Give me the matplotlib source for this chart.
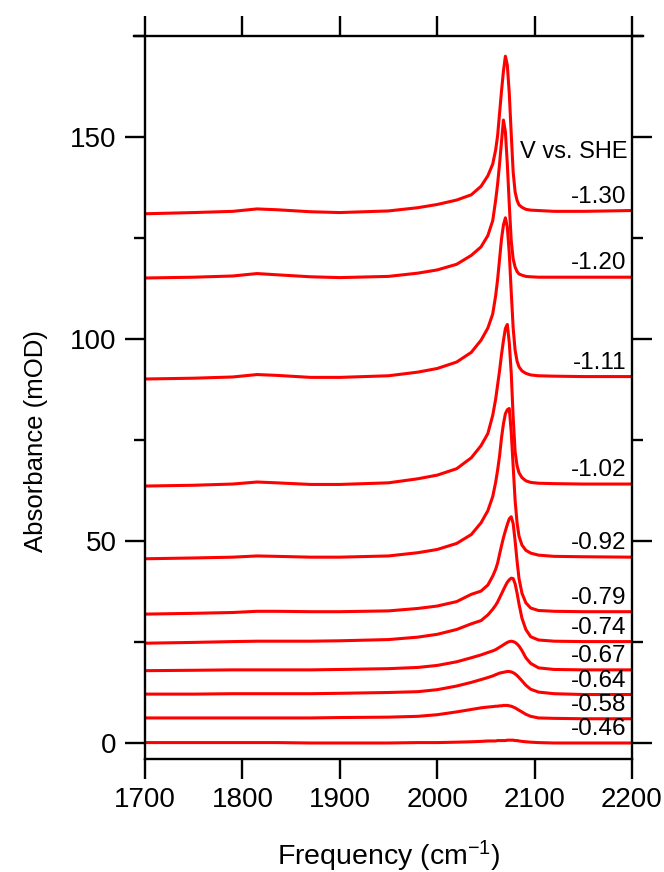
import numpy as np
import matplotlib
matplotlib.use("Agg")
import matplotlib.pyplot as plt
from matplotlib.ticker import MultipleLocator

plt.rcParams['font.family'] = ['Liberation Sans', 'DejaVu Sans']
plt.rcParams['mathtext.default'] = 'regular'

# frequency grid (cm-1), denser around the CO band
freq = [1700, 1750, 1790, 1815, 1835, 1870, 1900, 1950, 1980, 2000, 2020,
        2035, 2045, 2052, 2057, 2060,
        2062, 2064, 2066, 2068, 2070, 2072, 2074, 2076, 2078, 2080, 2082, 2084,
        2087, 2091, 2096, 2104, 2120, 2150, 2200]

# absorbance (mOD), relative to each trace's offset
a046 = [0.1, 0.1, 0.1, 0.1, 0.1, 0.0, 0.0, 0.0, 0.1, 0.1, 0.2,
        0.3, 0.4, 0.5, 0.5, 0.5,
        0.6, 0.6, 0.6, 0.6, 0.6, 0.7, 0.7, 0.7, 0.7, 0.6, 0.6, 0.5,
        0.4, 0.3, 0.2, 0.1, 0.0, 0.0, 0.0]
a058 = [0.2, 0.2, 0.2, 0.2, 0.2, 0.2, 0.3, 0.4, 0.6, 1.0, 1.7,
        2.3, 2.7, 2.9, 3.0, 3.1,
        3.1, 3.2, 3.2, 3.3, 3.3, 3.3, 3.2, 3.1, 2.9, 2.7, 2.4, 2.1,
        1.7, 1.1, 0.6, 0.2, 0.1, 0.0, 0.0]
a064 = [0.1, 0.1, 0.2, 0.2, 0.2, 0.2, 0.3, 0.5, 0.7, 1.2, 2.1,
        3.0, 3.7, 4.2, 4.6, 4.9,
        5.1, 5.3, 5.4, 5.5, 5.6, 5.7, 5.7, 5.6, 5.4, 5.1, 4.7, 4.2,
        3.4, 2.3, 1.3, 0.6, 0.2, 0.0, 0.0]
a067 = [-0.2, -0.1, 0.0, 0.0, 0.0, 0.0, 0.1, 0.3, 0.6, 1.1, 2.0,
        3.0, 3.7, 4.3, 4.7, 5.0,
        5.3, 5.6, 5.9, 6.2, 6.5, 6.8, 7.0, 7.1, 7.0, 6.8, 6.4, 5.9,
        4.8, 3.0, 1.6, 0.5, 0.1, 0.0, 0.0]
a074 = [-0.4, -0.2, 0.0, 0.1, 0.1, 0.1, 0.2, 0.5, 1.1, 1.8, 3.0,
        4.4, 5.2, 6.6, 8.0, 9.0,
        9.8, 10.8, 11.8, 12.8, 13.8, 14.7, 15.3, 15.7, 15.6, 14.3, 12.0, 9.3,
        5.8, 3.0, 1.2, 0.4, 0.1, 0.0, 0.0]
a079 = [-0.6, -0.4, -0.2, 0.1, 0.1, 0.0, 0.0, 0.2, 0.8, 1.4, 2.5,
        4.3, 5.1, 6.6, 8.8, 10.5,
        12.0, 14.2, 16.3, 18.3, 20.0, 21.6, 23.0, 23.5, 21.8, 17.5, 12.5, 8.2,
        4.6, 2.2, 0.9, 0.3, 0.1, 0.0, 0.0]
a092 = [-0.4, -0.2, 0.0, 0.3, 0.2, 0.0, 0.0, 0.3, 1.1, 1.9, 3.4,
        5.6, 8.5, 11.5, 15.0, 18.5,
        21.5, 25.0, 29.5, 33.0, 35.5, 36.5, 36.8, 31.0, 22.5, 14.0, 8.5, 5.2,
        3.0, 1.7, 1.0, 0.5, 0.2, 0.1, 0.0]
a102 = [-0.5, -0.3, 0.0, 0.5, 0.3, -0.1, -0.1, 0.3, 1.3, 2.2, 3.8,
        6.5, 9.5, 12.5, 17.0, 21.0,
        24.5, 28.0, 32.0, 35.5, 38.5, 39.5, 35.0, 27.5, 16.5, 8.0, 4.5, 2.8,
        1.6, 0.8, 0.4, 0.2, 0.1, 0.0, 0.0]
a111 = [-0.6, -0.4, -0.1, 0.5, 0.3, -0.2, -0.2, 0.2, 1.1, 2.0, 3.6,
        6.0, 9.0, 12.0, 15.5, 20.0,
        24.0, 29.0, 34.0, 37.5, 39.3, 37.0, 30.5, 21.0, 12.0, 6.5, 3.8, 2.4,
        1.4, 0.8, 0.4, 0.2, 0.1, 0.0, 0.0]
a120 = [-0.2, 0.0, 0.3, 0.9, 0.6, 0.1, -0.1, 0.2, 1.0, 1.8, 3.2,
        5.4, 7.5, 10.3, 14.0, 19.0,
        23.0, 28.0, 33.5, 38.9, 36.0, 28.0, 18.0, 9.0, 4.5, 2.5, 1.4, 0.8,
        0.5, 0.2, 0.1, 0.0, 0.0, 0.0, 0.0]
a130 = [-0.8, -0.5, -0.2, 0.4, 0.2, -0.3, -0.5, -0.1, 0.7, 1.5, 2.6,
        3.9, 6.0, 8.6, 11.5, 15.0,
        18.5, 24.0, 29.5, 34.5, 38.2, 36.0, 29.0, 19.0, 9.5, 4.6, 2.5, 1.4,
        0.8, 0.3, 0.1, 0.0, -0.2, -0.2, 0.0]

spectra = [a046, a058, a064, a067, a074, a079, a092, a102, a111, a120, a130]
offsets = [0.0, 6.0, 12.0, 18.1, 25.1, 32.5, 46.0, 64.1, 90.7, 115.3, 131.8]
labels = ['-0.46', '-0.58', '-0.64', '-0.67', '-0.74', '-0.79', '-0.92',
          '-1.02', '-1.11', '-1.20', '-1.30']

fig = plt.figure(figsize=(6.64, 8.72), dpi=100)
ax = fig.add_axes([0.2184, 0.1296, 0.7334, 0.8291])

for spec, off, lab in zip(spectra, offsets, labels):
    y = np.array(spec) + off
    ax.plot(freq, y, color='#ff0000', lw=2.2, solid_joinstyle='round')
    ax.text(2194, off + 0.7, lab, ha='right', va='bottom', fontsize=17.5)

ax.text(2195, 146.3, 'V vs. SHE', ha='right', va='center', fontsize=17)

ax.set_xlim(1700, 2200)
ax.set_ylim(-3.96, 175)
ax.xaxis.set_major_locator(MultipleLocator(100))
ax.yaxis.set_major_locator(MultipleLocator(50))
ax.yaxis.set_minor_locator(MultipleLocator(25))
ax.tick_params(which='both', direction='out', top=True, right=True,
               width=1.7, labelsize=20)
ax.tick_params(which='major', length=14.5, pad=6)
ax.tick_params(which='minor', length=8)
ax.tick_params(axis='x', which='minor', bottom=False, top=False)
for s in ax.spines.values():
    s.set_linewidth(1.7)
ax.spines['top'].set_bounds(1689, 2211)

ax.set_xlabel('Frequency (cm$^{-1}$)', fontsize=20.5, labelpad=18)
ax.set_ylabel('Absorbance (mOD)', fontsize=18.5)
ax.yaxis.set_label_coords(-0.2, 0.44)

fig.savefig('out.png', dpi=100)
